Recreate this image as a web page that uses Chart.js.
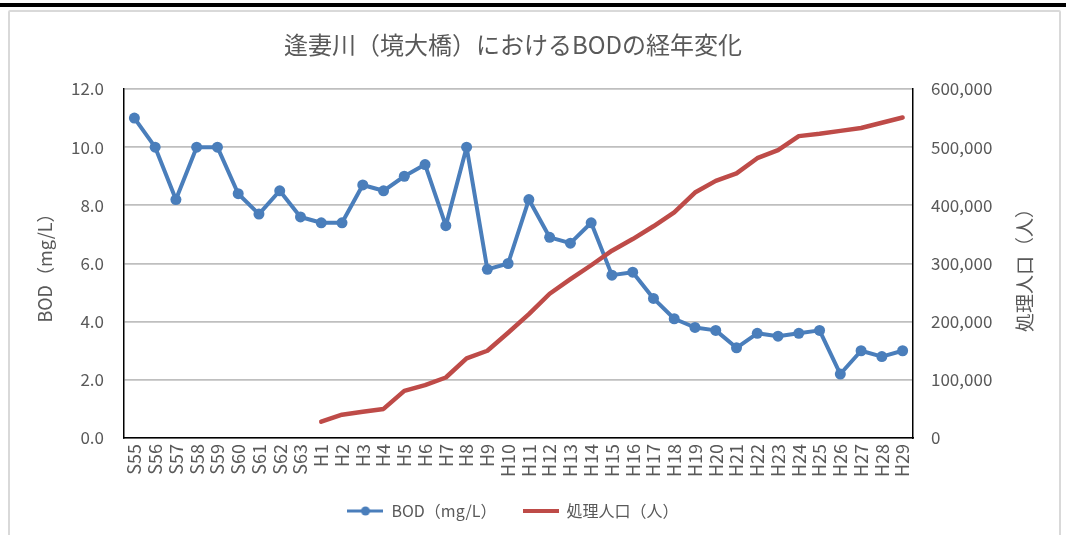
<!DOCTYPE html>
<html>
<head>
<meta charset="utf-8">
<script src="https://cdn.jsdelivr.net/npm/chart.js@4/dist/chart.umd.min.js"></script>
<style>
  html, body { margin: 0; padding: 0; background: #fff; }
  body { width: 1066px; height: 535px; position: relative; overflow: hidden; }
  #topbar { position: absolute; left: 0; top: 3px; width: 1066px; height: 4px; background: #000; }
  #frame { position: absolute; left: 8px; top: 10px; width: 1053px; height: 540px; border: 2px solid #d9d9d9; border-radius: 2px; box-sizing: border-box; }
  #wrap { position: absolute; left: 0; top: 0; width: 1066px; height: 535px; }
</style>
</head>
<body>
<div id="topbar"></div>
<div id="frame"></div>
<div id="wrap"><canvas id="c" width="1066" height="535"></canvas></div>
<script>
const categories = ["S55","S56","S57","S58","S59","S60","S61","S62","S63",
  "H1","H2","H3","H4","H5","H6","H7","H8","H9","H10","H11","H12","H13","H14","H15","H16","H17","H18","H19","H20","H21","H22","H23","H24","H25","H26","H27","H28","H29"];
const bodValues = [11.0,10.0,8.2,10.0,10.0,8.4,7.7,8.5,7.6,
  7.4,7.4,8.7,8.5,9.0,9.4,7.3,10.0,5.8,6.0,8.2,6.9,6.7,7.4,5.6,5.7,4.8,4.1,3.8,3.7,3.1,3.6,3.5,3.6,3.7,2.2,3.0,2.8,3.0];
const popValues = [null,null,null,null,null,null,null,null,null,
  28000,40000,45000,50000,81000,91000,104000,137000,150000,181000,213000,248000,273000,297000,322000,342000,364000,388000,422000,442000,455000,481000,495000,519000,523000,528000,533000,542000,551000];
const leftTicks = [0,2,4,6,8,10,12];
const rightTicks = [0,100000,200000,300000,400000,500000,600000];
const titleText = "逢妻川（境大橋）におけるBODの経年変化";
const bodName = "BOD（mg/L）";
const popName = "処理人口（人）";
const leftTitle = "BOD（mg/L）";
const rightTitle = "処理人口（人）";

const BLUE = "#4A7EBB";
const RED = "#BE4B48";
const GRAY = "#595959";
const FONT = "'Noto Sans CJK JP', 'Noto Sans', sans-serif";

function makeMarker(withDot, color) {
  const cv = document.createElement('canvas');
  cv.width = 36; cv.height = 12;
  const g = cv.getContext('2d');
  g.strokeStyle = color;
  g.lineWidth = withDot ? 3 : 4;
  g.beginPath(); g.moveTo(0, 6); g.lineTo(36, 6); g.stroke();
  if (withDot) { g.fillStyle = color; g.beginPath(); g.arc(18, 6, 4.5, 0, Math.PI * 2); g.fill(); }
  return cv;
}
const markers = [makeMarker(true, BLUE), makeMarker(false, RED)];

const axisTitles = {
  id: 'axisTitles',
  afterDraw(chart) {
    const ctx = chart.ctx;
    const ca = chart.chartArea;
    const cy = (ca.top + ca.bottom) / 2;
    ctx.save();
    ctx.fillStyle = GRAY;
    ctx.textAlign = 'center';
    ctx.textBaseline = 'middle';
    ctx.font = "18px " + FONT;
    ctx.translate(45, cy);
    ctx.rotate(-Math.PI / 2);
    ctx.fillText(leftTitle, 0, 0);
    ctx.restore();
    ctx.save();
    ctx.fillStyle = GRAY;
    ctx.textAlign = 'center';
    ctx.textBaseline = 'middle';
    ctx.font = "19px " + FONT;
    ctx.translate(1025, cy + 2);
    ctx.rotate(-Math.PI / 2);
    ctx.fillText(rightTitle, 0, 0);
    ctx.restore();
  }
};

new Chart(document.getElementById('c'), {
  type: 'line',
  data: {
    labels: categories,
    datasets: [
      { label: bodName, data: bodValues, yAxisID: 'y', borderColor: BLUE, backgroundColor: BLUE,
        borderWidth: 4, pointRadius: 5.5, pointBackgroundColor: BLUE, pointBorderColor: BLUE,
        pointBorderWidth: 0, tension: 0, order: 1, borderJoinStyle: 'round', borderCapStyle: 'round' },
      { label: popName, data: popValues, yAxisID: 'y2', borderColor: RED, backgroundColor: RED,
        borderWidth: 4.5, pointRadius: 0, tension: 0, spanGaps: false, order: 0,
        borderCapStyle: 'round', borderJoinStyle: 'round' }
    ]
  },
  options: {
    responsive: false,
    animation: false,
    events: [],
    layout: { padding: { top: 10, left: 10, right: 50, bottom: 6 } },
    plugins: {
      title: { display: true, text: titleText, color: GRAY, font: { family: FONT, size: 24, weight: 'normal' },
        padding: { top: 20.6, bottom: 29.6 } },
      legend: {
        position: 'bottom',
        labels: {
          color: GRAY, font: { family: FONT, size: 16 }, usePointStyle: true, pointStyleWidth: 36,
          boxHeight: 12, padding: 26,
          generateLabels(chart) {
            return chart.data.datasets.map((ds, i) => ({
              text: ds.label, fillStyle: ds.borderColor, strokeStyle: ds.borderColor, lineWidth: 0,
              pointStyle: markers[i], datasetIndex: i, hidden: false, fontColor: GRAY
            }));
          }
        }
      },
      tooltip: { enabled: false }
    },
    scales: {
      x: {
        offset: true,
        grid: { display: false, drawTicks: false, offset: true },
        border: { display: true, color: '#000', width: 1.5 },
        ticks: { color: GRAY, font: { family: FONT, size: 18 }, maxRotation: 90, minRotation: 90, autoSkip: false, padding: 6 },
        afterFit(s) { s.height = 39; }
      },
      y: {
        position: 'left', min: 0, max: 12,
        afterBuildTicks(s) { s.ticks = leftTicks.map(v => ({ value: v })); },
        ticks: { color: GRAY, font: { family: FONT, size: 17 }, padding: 20, callback: v => v.toFixed(1) },
        grid: { color: '#bfbfbf', lineWidth: 1.8, drawTicks: false },
        border: { display: true, color: '#000', width: 1.5 },
        afterFit(s) { s.width = 114; }
      },
      y2: {
        position: 'right', min: 0, max: 600000,
        afterBuildTicks(s) { s.ticks = rightTicks.map(v => ({ value: v })); },
        ticks: { color: GRAY, font: { family: FONT, size: 17 }, padding: 18, callback: v => v.toLocaleString('en-US') },
        grid: { display: false, drawTicks: false },
        border: { display: true, color: '#000', width: 1.5 },
        afterFit(s) { s.width = 103; }
      }
    }
  },
  plugins: [axisTitles]
});
</script>
</body>
</html>
